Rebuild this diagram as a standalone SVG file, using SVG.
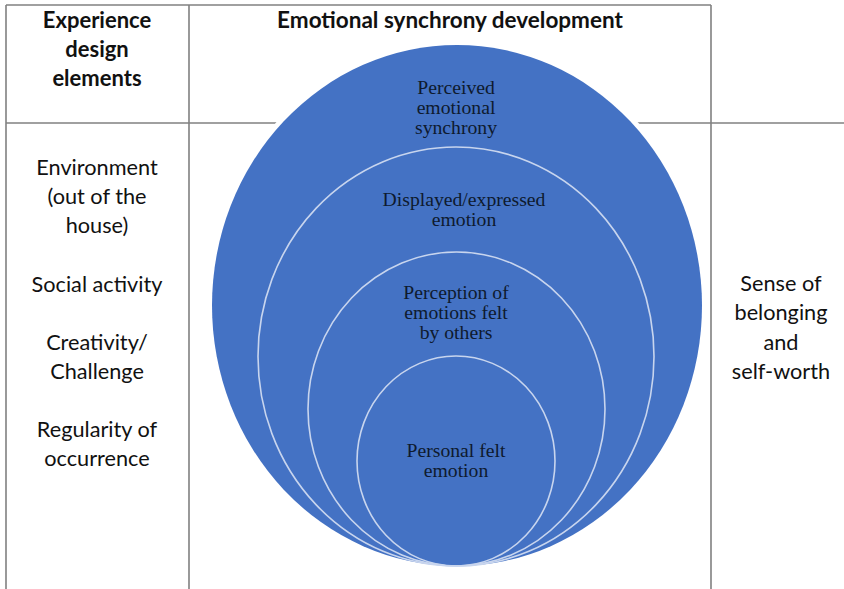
<svg xmlns="http://www.w3.org/2000/svg" width="844" height="589" viewBox="0 0 844 589">
<style>
.grid{stroke:#808080;stroke-width:1.6;fill:none}
.hdr{font-family:Lato,"Open Sans","Liberation Sans",sans-serif;font-weight:bold;font-size:22px;fill:#111;text-anchor:middle}
.hdr2{font-size:22.5px}
.item{font-family:Lato,"Open Sans","Liberation Sans",sans-serif;font-size:21.7px;fill:#111;text-anchor:middle}
.ring{fill:none;stroke:#c8d5ee;stroke-width:1.6}
.lbl{font-family:"Liberation Serif","Times New Roman",serif;font-size:19.7px;fill:#0e1a2e;text-anchor:middle}
</style>
<rect width="844" height="589" fill="#fff"/>
<g id="table">
<line class="grid" x1="6" y1="5" x2="711" y2="5"/>
<line class="grid" x1="6" y1="5" x2="6" y2="589"/>
<line class="grid" x1="189" y1="5" x2="189" y2="589"/>
<line class="grid" x1="711" y1="5" x2="711" y2="589"/>
<line class="grid" x1="6" y1="123" x2="844" y2="123"/>
</g>
<g id="header-left">
<text class="hdr" x="97" y="28">Experience</text>
<text class="hdr" x="97" y="57">design</text>
<text class="hdr" x="97" y="86">elements</text>
</g>
<g id="header-center">
<text class="hdr hdr2" x="450" y="28">Emotional synchrony development</text>
</g>
<g id="elements">
<text class="item" x="97" y="175">Environment</text>
<text class="item" x="97" y="204">(out of the</text>
<text class="item" x="97" y="233">house)</text>
<text class="item" x="97" y="292">Social activity</text>
<text class="item" x="97" y="350">Creativity/</text>
<text class="item" x="97" y="379">Challenge</text>
<text class="item" x="97" y="437">Regularity of</text>
<text class="item" x="97" y="466">occurrence</text>
</g>
<g id="outcome">
<text class="item" x="781" y="291">Sense of</text>
<text class="item" x="781" y="320">belonging</text>
<text class="item" x="781" y="350">and</text>
<text class="item" x="781" y="379">self-worth</text>
</g>
<g id="perceived-synchrony">
<ellipse cx="457" cy="305.5" rx="250" ry="265.5" fill="#fff"/>
<ellipse cx="457" cy="305.5" rx="245" ry="260.5" fill="#4472c4"/>
<text class="lbl" x="456" y="94">Perceived</text>
<text class="lbl" x="456" y="114">emotional</text>
<text class="lbl" x="456" y="134">synchrony</text>
</g>
<g id="displayed-emotion">
<ellipse class="ring" cx="456" cy="356.5" rx="198" ry="209.5"/>
<text class="lbl" x="464" y="206">Displayed/expressed</text>
<text class="lbl" x="464" y="226">emotion</text>
</g>
<g id="perception-others">
<ellipse class="ring" cx="456.5" cy="409" rx="148.5" ry="157"/>
<text class="lbl" x="456" y="299">Perception of</text>
<text class="lbl" x="456" y="319">emotions felt</text>
<text class="lbl" x="456" y="339">by others</text>
</g>
<g id="personal-emotion">
<ellipse class="ring" cx="456" cy="461" rx="99" ry="105"/>
<text class="lbl" x="456" y="457">Personal felt</text>
<text class="lbl" x="456" y="477">emotion</text>
</g>
</svg>
